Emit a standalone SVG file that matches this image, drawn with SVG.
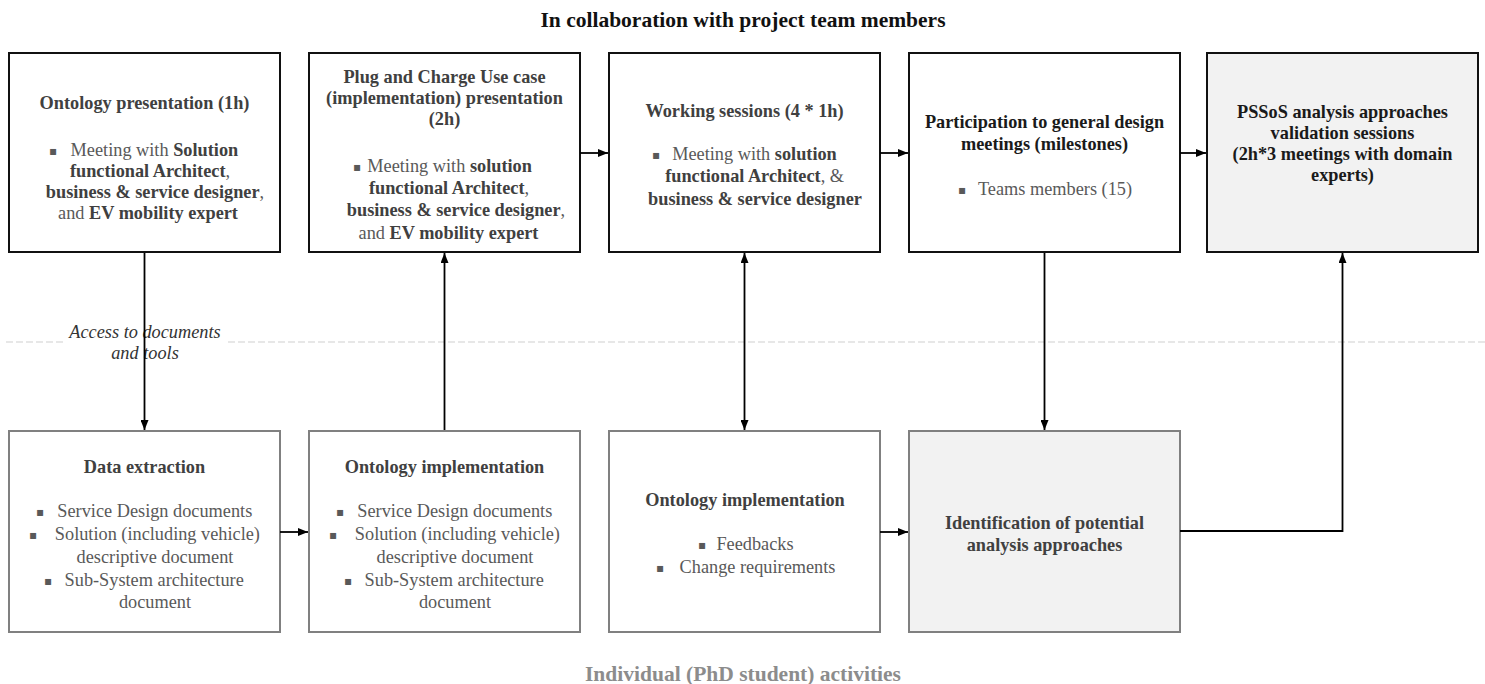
<svg xmlns="http://www.w3.org/2000/svg" width="1485" height="684" viewBox="0 0 1485 684">
<defs>
<marker id="arr" markerUnits="userSpaceOnUse" markerWidth="10" markerHeight="8" refX="10" refY="4" orient="auto-start-reverse">
<path d="M0,0 L10,4 L0,8 z" fill="#000"/>
</marker>
<style>
text{font-family:"Liberation Serif","Times New Roman",serif;}
.hd{font-size:21.5px;font-weight:bold;text-anchor:middle;}
.t{font-size:18.3px;font-weight:bold;fill:#404040;text-anchor:middle;}
.tk{font-size:18.3px;font-weight:bold;fill:#1a1a1a;text-anchor:middle;}
.b{font-size:18.3px;fill:#595959;text-anchor:middle;}
.b tspan.s{font-weight:bold;fill:#404040;}
.bu{font-family:"DejaVu Sans",sans-serif;font-size:12px;fill:#595959;text-anchor:middle;}
.top{fill:#fff;stroke:#111;stroke-width:2;}
.bot{fill:#fff;stroke:#808080;stroke-width:2;}
.grey{fill:#f2f2f2;}
.c{fill:none;stroke:#000;stroke-width:1.8;}
.lbl{font-size:18.3px;font-style:italic;fill:#333;text-anchor:middle;}
</style>
</defs>
<rect width="1485" height="684" fill="#fff"/>
<text class="hd" x="743" y="27" fill="#111">In collaboration with project team members</text>
<text class="hd" x="743" y="681" fill="#8c8c8c">Individual (PhD student) activities</text>
<g id="divider" stroke="#cfcfcf" stroke-width="1" stroke-dasharray="7 3">
<line x1="6" y1="342" x2="64" y2="342"/>
<line x1="228" y1="342" x2="1485" y2="342"/>
</g>

<g id="n1">
<rect class="top" x="9" y="53" width="271" height="199"/>
<text class="t" x="144.5" y="109">Ontology presentation (1h)</text>
<text class="bu" x="53" y="155">▪</text>
<text class="b" x="154.4" y="156">Meeting with <tspan class="s">Solution</tspan></text>
<text class="b" x="150" y="177"><tspan class="s">functional Architect</tspan>,</text>
<text class="b" x="155" y="198"><tspan class="s">business &amp; service designer</tspan>,</text>
<text class="b" x="148" y="219">and <tspan class="s">EV mobility expert</tspan></text>
</g>
<g id="n2">
<rect class="top" x="309" y="53" width="271" height="199"/>
<text class="t" x="444.5" y="83">Plug and Charge Use case</text>
<text class="t" x="444.5" y="104">(implementation) presentation</text>
<text class="t" x="444.5" y="125">(2h)</text>
<text class="bu" x="357" y="171">▪</text>
<text class="b" x="449.6" y="172">Meeting with <tspan class="s">solution</tspan></text>
<text class="b" x="449" y="193.5"><tspan class="s">functional Architect</tspan>,</text>
<text class="b" x="456" y="216"><tspan class="s">business &amp; service designer</tspan>,</text>
<text class="b" x="448.5" y="238.5">and <tspan class="s">EV mobility expert</tspan></text>
</g>
<g id="n3">
<rect class="top" x="609" y="53" width="271" height="199"/>
<text class="t" x="744.5" y="117">Working sessions (4 * 1h)</text>
<text class="bu" x="656" y="159">▪</text>
<text class="b" x="754.5" y="160">Meeting with <tspan class="s">solution</tspan></text>
<text class="b" x="754.6" y="182"><tspan class="s">functional Architect</tspan>, &amp;</text>
<text class="b" x="755" y="205"><tspan class="s">business &amp; service designer</tspan></text>
</g>
<g id="n4">
<rect class="top" x="909" y="53" width="271" height="199"/>
<text class="tk" x="1044.5" y="128">Participation to general design</text>
<text class="tk" x="1044.5" y="150">meetings (milestones)</text>
<text class="bu" x="962" y="194">▪</text>
<text class="b" x="1055" y="195">Teams members (15)</text>
</g>
<g id="n5">
<rect class="top grey" x="1207" y="53" width="271" height="199"/>
<text class="tk" x="1342.5" y="118">PSSoS analysis approaches</text>
<text class="tk" x="1342.5" y="139">validation sessions</text>
<text class="tk" x="1342.5" y="160">(2h*3 meetings with domain</text>
<text class="tk" x="1342.5" y="181">experts)</text>
</g>

<g id="n6">
<rect class="bot" x="9" y="431" width="271" height="201"/>
<text class="t" x="144.5" y="473">Data extraction</text>
<text class="bu" x="40" y="516">▪</text>
<text class="b" x="154.8" y="517">Service Design documents</text>
<text class="bu" x="33" y="539">▪</text>
<text class="b" x="157.4" y="540">Solution (including vehicle)</text>
<text class="b" x="155" y="563">descriptive document</text>
<text class="bu" x="48" y="585">▪</text>
<text class="b" x="154.2" y="586">Sub-System architecture</text>
<text class="b" x="155" y="608">document</text>
</g>
<g id="n7">
<rect class="bot" x="309" y="431" width="271" height="201"/>
<text class="t" x="444.5" y="473">Ontology implementation</text>
<text class="bu" x="340" y="516">▪</text>
<text class="b" x="454.8" y="517">Service Design documents</text>
<text class="bu" x="333" y="539">▪</text>
<text class="b" x="457.4" y="540">Solution (including vehicle)</text>
<text class="b" x="455" y="563">descriptive document</text>
<text class="bu" x="348" y="585">▪</text>
<text class="b" x="454.2" y="586">Sub-System architecture</text>
<text class="b" x="455" y="608">document</text>
</g>
<g id="n8">
<rect class="bot" x="609" y="431" width="271" height="201"/>
<text class="t" x="745" y="506">Ontology implementation</text>
<text class="bu" x="702" y="549">▪</text>
<text class="b" x="755" y="550">Feedbacks</text>
<text class="bu" x="660" y="572">▪</text>
<text class="b" x="757.5" y="573">Change requirements</text>
</g>
<g id="n9">
<rect class="bot grey" x="909" y="431" width="271" height="201"/>
<text class="t" x="1044.5" y="529">Identification of potential</text>
<text class="t" x="1044.5" y="551">analysis approaches</text>
</g>

<g id="connectors">
<text class="lbl" x="145" y="338">Access to documents</text>
<text class="lbl" x="145" y="359">and tools</text>
<line class="c" x1="144.5" y1="253" x2="144.5" y2="430" marker-end="url(#arr)"/>
<line class="c" x1="444.5" y1="430" x2="444.5" y2="253" marker-end="url(#arr)"/>
<line class="c" x1="744.5" y1="253" x2="744.5" y2="430" marker-start="url(#arr)" marker-end="url(#arr)"/>
<line class="c" x1="1044.5" y1="253" x2="1044.5" y2="430" marker-end="url(#arr)"/>
<line class="c" x1="580" y1="153" x2="608" y2="153" marker-end="url(#arr)"/>
<line class="c" x1="880" y1="153" x2="908" y2="153" marker-end="url(#arr)"/>
<line class="c" x1="1180" y1="153" x2="1206" y2="153" marker-end="url(#arr)"/>
<line class="c" x1="280" y1="532" x2="308" y2="532" marker-end="url(#arr)"/>
<line class="c" x1="880" y1="532" x2="908" y2="532" marker-end="url(#arr)"/>
<polyline class="c" points="1180,531 1342.5,531 1342.5,253" marker-end="url(#arr)"/>
</g>
</svg>
